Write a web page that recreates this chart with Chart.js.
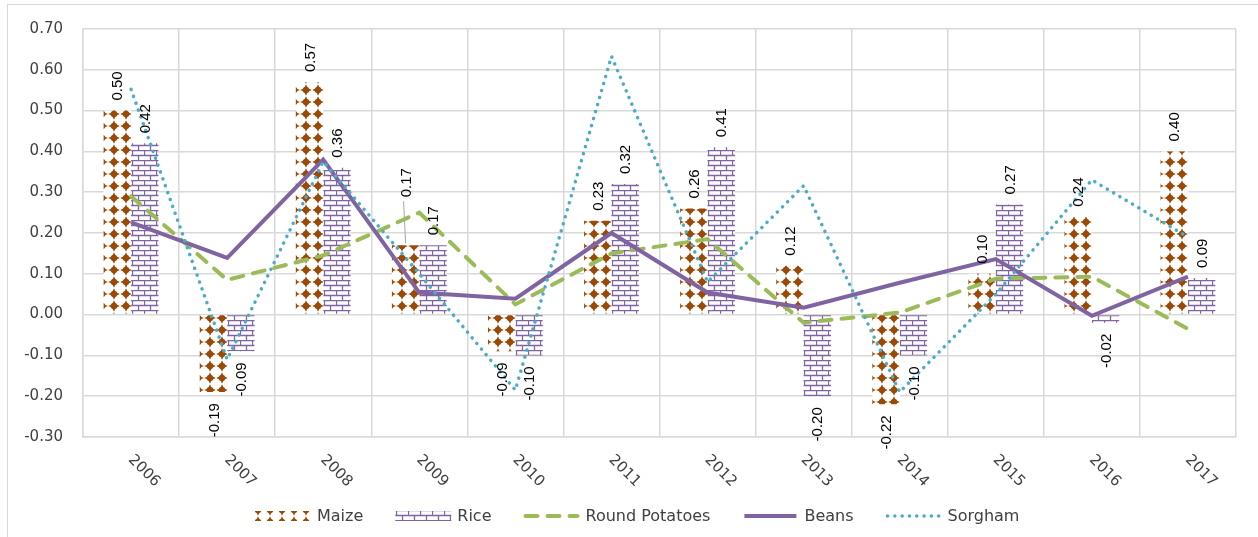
<!DOCTYPE html>
<html>
<head>
<meta charset="utf-8">
<title>Crop price changes 2006-2017</title>
<script src="https://cdn.jsdelivr.net/npm/chart.js@4.4.1/dist/chart.umd.min.js"></script>
<style>
  html, body { margin: 0; padding: 0; background: #fff; }
  #wrap { width: 1258px; height: 537px; }
</style>
</head>
<body>
<div id="wrap"><canvas id="chart" width="1258" height="537"></canvas></div>
<script>
// ---- data ----
const years = ['2006', '2007', '2008', '2009', '2010', '2011', '2012', '2013', '2014', '2015', '2016', '2017'];
const maize = [0.50, -0.19, 0.57, 0.17, -0.09, 0.23, 0.26, 0.12, -0.22, 0.10, 0.24, 0.40];
const rice = [0.42, -0.09, 0.36, 0.17, -0.10, 0.32, 0.41, -0.20, -0.10, 0.27, -0.02, 0.09];
const roundPotatoes = [0.29, 0.085, 0.145, 0.25, 0.025, 0.15, 0.185, -0.02, 0.005, 0.088, 0.093, -0.035];
const beans = [0.226, 0.139, 0.38, 0.054, 0.039, 0.20, 0.054, 0.017, 0.078, 0.136, -0.003, 0.093];
const sorgham = [0.552, -0.11, 0.375, 0.10, -0.185, 0.633, 0.08, 0.316, -0.19, 0.05, 0.33, 0.19];
const yTicks = [-0.3, -0.2, -0.1, 0, 0.1, 0.2, 0.3, 0.4, 0.5, 0.6, 0.7];

const MAIZE_COLOR = '#9a4a08';
const RICE_COLOR = '#8064a2';
const POTATO_COLOR = '#9bbb59';
const BEANS_COLOR = '#8064a2';
const SORGHAM_COLOR = '#4bacc6';
const GRID_COLOR = '#d9d9d9';
const TEXT_COLOR = '#404040';
const AXIS_FONT = '15px "DejaVu Sans"';
const LEGEND_FONT = '16px "DejaVu Sans"';
const LABEL_FONT = '15px "Liberation Sans"';

const canvas = document.getElementById('chart');
const ctx = canvas.getContext('2d');

// star-dot fill like the Excel "solid diamond" pattern
function maizePattern() {
  const c = document.createElement('canvas');
  c.width = 12; c.height = 12;
  const g = c.getContext('2d');
  g.fillStyle = '#fff';
  g.fillRect(0, 0, 12, 12);
  g.fillStyle = MAIZE_COLOR;
  g.beginPath();
  for (let k = 0; k < 8; k++) {
    const a = k * Math.PI / 4 - Math.PI / 2;
    const r = k % 2 === 0 ? 5.8 : 2.6;
    const px = 6 + r * Math.cos(a), py = 6 + r * Math.sin(a);
    if (k === 0) g.moveTo(px, py); else g.lineTo(px, py);
  }
  g.closePath();
  g.fill();
  g.beginPath();
  g.arc(6, 6, 3.2, 0, Math.PI * 2);
  g.fill();
  return ctx.createPattern(c, 'repeat');
}

// brick fill
function ricePattern() {
  const c = document.createElement('canvas');
  c.width = 12; c.height = 10;
  const g = c.getContext('2d');
  g.fillStyle = '#fff';
  g.fillRect(0, 0, 12, 10);
  g.strokeStyle = RICE_COLOR;
  g.lineWidth = 1.3;
  g.beginPath();
  g.moveTo(0, 0.5); g.lineTo(12, 0.5);
  g.moveTo(0, 5.5); g.lineTo(12, 5.5);
  g.moveTo(0.5, 0.5); g.lineTo(0.5, 5.5);
  g.moveTo(6.5, 5.5); g.lineTo(6.5, 10);
  g.stroke();
  return ctx.createPattern(c, 'repeat');
}

const maizeFill = maizePattern();
const riceFill = ricePattern();

// labels on bars, rotated to read bottom-to-top
const barLabels = {
  id: 'barLabels',
  afterDatasetsDraw(chart) {
    const c = chart.ctx;
    c.save();
    c.font = LABEL_FONT;
    c.fillStyle = '#000';
    c.textBaseline = 'middle';
    [0, 1].forEach(di => {
      const meta = chart.getDatasetMeta(di);
      const vals = chart.data.datasets[di].data;
      meta.data.forEach((bar, i) => {
        const v = vals[i];
        const txt = v.toFixed(2);
        let y = v >= 0 ? bar.y - 10 : bar.y + 11;
        // 2009 maize label sits higher with a leader line
        if (di === 0 && i === 3) {
          c.save();
          c.strokeStyle = '#a6a6a6';
          c.lineWidth = 1;
          c.beginPath();
          c.moveTo(bar.x - 2, y - 34);
          c.lineTo(bar.x, bar.y - 2);
          c.stroke();
          c.restore();
          y -= 38;
        }
        c.save();
        c.translate(bar.x, y);
        c.rotate(-Math.PI / 2);
        c.textAlign = v >= 0 ? 'left' : 'right';
        c.fillText(txt, 0, 1);
        c.restore();
      });
    });
    c.restore();
  }
};

// frame, slanted year labels and legend
const decor = {
  id: 'decor',
  beforeDraw(chart) {
    const c = chart.ctx;
    c.save();
    c.fillStyle = '#fff';
    c.fillRect(0, 0, chart.width, chart.height);
    c.strokeStyle = '#d9d9d9';
    c.lineWidth = 1;
    c.beginPath();
    c.moveTo(7.5, 537); c.lineTo(7.5, 4.5); c.lineTo(1258, 4.5);
    c.stroke();
    c.restore();
  },
  afterDraw(chart) {
    const c = chart.ctx;
    const xs = chart.scales.x;
    const bottom = chart.chartArea.bottom;
    c.save();
    c.font = AXIS_FONT;
    c.fillStyle = TEXT_COLOR;
    c.textAlign = 'center';
    c.textBaseline = 'middle';
    years.forEach((yr, i) => {
      c.save();
      c.translate(xs.getPixelForTick(i) + 13, bottom + 34);
      c.rotate(Math.PI / 4);
      c.fillText(yr, 0, 0);
      c.restore();
    });
    c.restore();

    // legend
    const items = [
      { text: 'Maize', kind: 'box', fill: maizeFill },
      { text: 'Rice', kind: 'box', fill: riceFill },
      { text: 'Round Potatoes', kind: 'line', color: POTATO_COLOR, width: 4, dash: [12, 10], cap: 'round' },
      { text: 'Beans', kind: 'line', color: BEANS_COLOR, width: 4, dash: [], cap: 'butt' },
      { text: 'Sorgham', kind: 'line', color: SORGHAM_COLOR, width: 3.5, dash: [0.1, 7.2], cap: 'round' }
    ];
    const sw = 56, gapT = 6, gapI = 32, ly = 516;
    c.save();
    c.font = LEGEND_FONT;
    let total = 0;
    items.forEach((it, k) => {
      it.tw = c.measureText(it.text).width;
      total += sw + gapT + it.tw + (k < items.length - 1 ? gapI : 0);
    });
    let x = Math.round(637 - total / 2);
    items.forEach(it => {
      if (it.kind === 'box') {
        c.fillStyle = it.fill;
        c.fillRect(x, ly - 5, sw, 10);
      } else {
        c.strokeStyle = it.color;
        c.lineWidth = it.width;
        c.lineCap = it.cap;
        c.setLineDash(it.dash);
        c.beginPath();
        c.moveTo(x + 2, ly);
        c.lineTo(x + sw - 2, ly);
        c.stroke();
        c.setLineDash([]);
      }
      c.fillStyle = TEXT_COLOR;
      c.textAlign = 'left';
      c.textBaseline = 'middle';
      c.fillText(it.text, x + sw + gapT, ly + 1);
      x += sw + gapT + it.tw + gapI;
    });
    c.restore();
  }
};

new Chart(ctx, {
  data: {
    labels: years,
    datasets: [
      { type: 'bar', label: 'Maize', data: maize, backgroundColor: maizeFill, borderWidth: 0, order: 10,
        categoryPercentage: 0.57, barPercentage: 1.0 },
      { type: 'bar', label: 'Rice', data: rice, backgroundColor: riceFill, borderWidth: 0, order: 10,
        categoryPercentage: 0.57, barPercentage: 1.0 },
      { type: 'line', label: 'Round Potatoes', data: roundPotatoes, borderColor: POTATO_COLOR, borderWidth: 4,
        borderDash: [12, 10], borderCapStyle: 'round', pointRadius: 0, tension: 0, fill: false, order: 3 },
      { type: 'line', label: 'Beans', data: beans, borderColor: BEANS_COLOR, borderWidth: 4,
        pointRadius: 0, tension: 0, fill: false, order: 2 },
      { type: 'line', label: 'Sorgham', data: sorgham, borderColor: SORGHAM_COLOR, borderWidth: 3.5,
        borderDash: [0.1, 7.2], borderCapStyle: 'round', pointRadius: 0, tension: 0, fill: false, order: 1 }
    ]
  },
  options: {
    responsive: false,
    animation: false,
    layout: { padding: { left: 0, right: 22, top: 25, bottom: 100 } },
    plugins: {
      legend: { display: false },
      tooltip: { enabled: false }
    },
    scales: {
      x: {
        offset: true,
        grid: { color: GRID_COLOR, lineWidth: 1.5, offset: true, drawTicks: false },
        border: { color: GRID_COLOR, width: 1.5 },
        ticks: { display: false },
        afterFit: s => { s.height = 0; }
      },
      y: {
        min: -0.3,
        max: 0.7,
        afterBuildTicks: s => { s.ticks = yTicks.map(v => ({ value: v })); },
        afterFit: s => { s.width = 83; },
        grid: { color: GRID_COLOR, lineWidth: 1.5, drawTicks: false },
        border: { color: GRID_COLOR, width: 1.5 },
        ticks: {
          padding: 20,
          color: TEXT_COLOR,
          font: { family: 'DejaVu Sans', size: 15 },
          callback: v => Number(v).toFixed(2)
        }
      }
    }
  },
  plugins: [decor, barLabels]
});
</script>
</body>
</html>
